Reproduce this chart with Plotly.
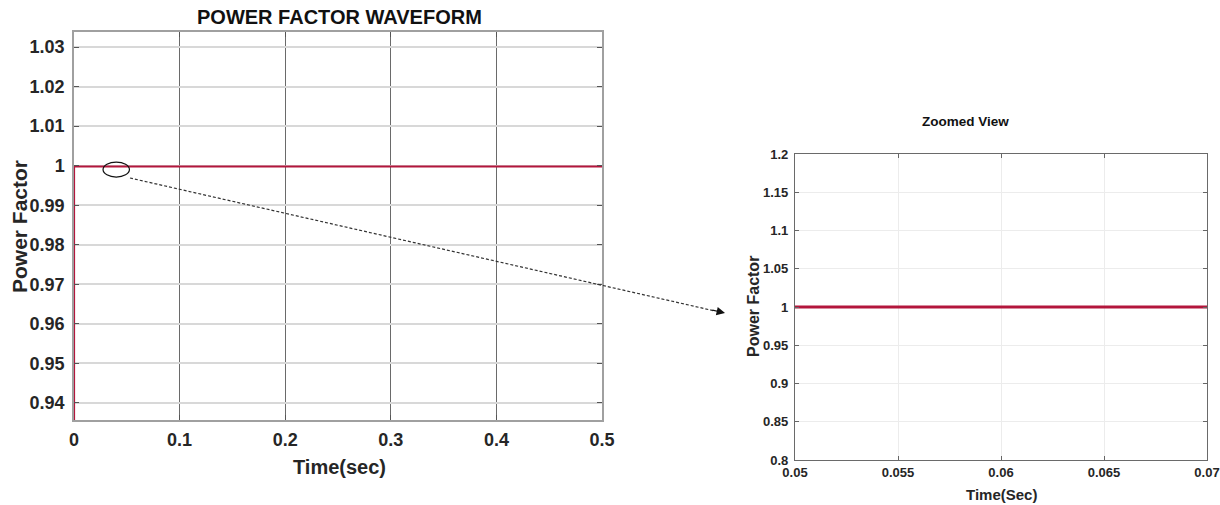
import plotly.graph_objects as go

# ---- data ----
time_main = [0.0, 0.0, 0.0005, 0.5]
pf_main = [0.90, 0.9998, 0.9998, 0.9998]

time_zoom = [0.05, 0.055, 0.06, 0.065, 0.07]
pf_zoom = [1.0, 1.0, 1.0, 1.0, 1.0]

main_xticks = [0, 0.1, 0.2, 0.3, 0.4, 0.5]
main_xlabels = ["0", "0.1", "0.2", "0.3", "0.4", "0.5"]
main_yticks = [0.94, 0.95, 0.96, 0.97, 0.98, 0.99, 1.00, 1.01, 1.02, 1.03]
main_ylabels = ["0.94", "0.95", "0.96", "0.97", "0.98", "0.99", "1", "1.01", "1.02", "1.03"]

zoom_xticks = [0.05, 0.055, 0.06, 0.065, 0.07]
zoom_xlabels = ["0.05", "0.055", "0.06", "0.065", "0.07"]
zoom_yticks = [0.8, 0.85, 0.9, 0.95, 1.0, 1.05, 1.1, 1.15, 1.2]
zoom_ylabels = ["0.8", "0.85", "0.9", "0.95", "1", "1.05", "1.1", "1.15", "1.2"]

W, H = 1220, 505
def px(x):
    return x / W
def py(y):
    return 1 - y / H

RED = "#b3163c"
SANS = "Liberation Sans, Arial, sans-serif"

fig = go.Figure()
fig.add_trace(go.Scatter(x=time_main, y=pf_main, mode="lines",
                         line=dict(color=RED, width=2.2), xaxis="x", yaxis="y",
                         showlegend=False, hoverinfo="skip"))
fig.add_trace(go.Scatter(x=time_zoom, y=pf_zoom, mode="lines",
                         line=dict(color=RED, width=3), xaxis="x2", yaxis="y2",
                         showlegend=False, hoverinfo="skip"))

fig.update_layout(
    template="none",
    width=W, height=H,
    margin=dict(l=0, r=0, t=0, b=0),
    paper_bgcolor="white", plot_bgcolor="white",
    xaxis=dict(domain=[px(74), px(602)], range=[0, 0.5], automargin=False,
               tickvals=main_xticks, ticktext=main_xlabels,
               showgrid=True, gridcolor="#6a6a6a", gridwidth=1,
               showline=True, linecolor="#a0a0a0", linewidth=1.5, mirror="allticks",
               ticks="inside", ticklen=5, tickcolor="#555",
               tickfont=dict(family=SANS, size=18, color="#262626", weight="bold"),
               ticklabelstandoff=3, zeroline=False, anchor="y"),
    yaxis=dict(domain=[py(420), py(32)], range=[0.9357, 1.0338], automargin=False,
               tickvals=main_yticks, ticktext=main_ylabels,
               showgrid=True, gridcolor="#d8d8d8", gridwidth=1.5,
               showline=True, linecolor="#a0a0a0", linewidth=1.5, mirror="allticks",
               ticks="inside", ticklen=5, tickcolor="#555",
               tickfont=dict(family=SANS, size=18, color="#262626", weight="bold"),
               ticklabelstandoff=4, zeroline=False, anchor="x"),
    xaxis2=dict(domain=[px(795), px(1207)], range=[0.05, 0.07], automargin=False,
                tickvals=zoom_xticks, ticktext=zoom_xlabels,
                showgrid=True, gridcolor="#ececec", gridwidth=1,
                showline=True, linecolor="#6a6a6a", linewidth=1.2, mirror="allticks",
                ticks="inside", ticklen=4, tickcolor="#666",
                tickfont=dict(family=SANS, size=13, color="#262626", weight="bold"),
                ticklabelstandoff=0, zeroline=False, anchor="y2"),
    yaxis2=dict(domain=[py(460), py(154)], range=[0.8, 1.2], automargin=False,
                tickvals=zoom_yticks, ticktext=zoom_ylabels,
                showgrid=True, gridcolor="#ececec", gridwidth=1,
                showline=True, linecolor="#6a6a6a", linewidth=1.2, mirror="allticks",
                ticks="inside", ticklen=4, tickcolor="#666",
                tickfont=dict(family=SANS, size=13, color="#262626", weight="bold"),
                ticklabelstandoff=3, zeroline=False, anchor="x2"),
)

annotations = [
    dict(text="<b>POWER FACTOR WAVEFORM</b>", x=px(339), y=py(17), xref="paper", yref="paper",
         showarrow=False, font=dict(family=SANS, size=20, color="#111"), xanchor="center", yanchor="middle"),
    dict(text="<b>Power Factor</b>", x=px(20), y=py(227), xref="paper", yref="paper",
         showarrow=False, textangle=-90, font=dict(family=SANS, size=21, color="#262626"),
         xanchor="center", yanchor="middle"),
    dict(text="<b>Time(sec)</b>", x=px(339), y=py(467), xref="paper", yref="paper",
         showarrow=False, font=dict(family=SANS, size=20, color="#262626"),
         xanchor="center", yanchor="middle"),
    dict(text="<b>Zoomed View</b>", x=px(965), y=py(121), xref="paper", yref="paper",
         showarrow=False, font=dict(family=SANS, size=13.5, color="#111"),
         xanchor="center", yanchor="middle"),
    dict(text="<b>Power Factor</b>", x=px(753), y=py(307), xref="paper", yref="paper",
         showarrow=False, textangle=-90, font=dict(family=SANS, size=16, color="#262626"),
         xanchor="center", yanchor="middle"),
    dict(text="<b>Time(Sec)</b>", x=px(1001), y=py(494), xref="paper", yref="paper",
         showarrow=False, font=dict(family=SANS, size=15, color="#262626"),
         xanchor="center", yanchor="middle"),
    # arrow head
    dict(text="", x=px(725), y=py(313), xref="paper", yref="paper",
         showarrow=True, ax=-14, ay=-3.2, arrowhead=2, arrowsize=1.4, arrowwidth=1.2,
         arrowcolor="#111"),
]
fig.update_layout(annotations=annotations)

fig.add_shape(type="line", xref="paper", yref="paper",
              x0=px(130), y0=py(178), x1=px(715), y1=py(311),
              line=dict(color="#333", width=1.2, dash="3px,2px"))
fig.add_shape(type="circle", xref="x", yref="y",
              x0=0.0275, x1=0.0525, y0=0.99713, y1=1.00091,
              line=dict(color="#111", width=1.2))

fig.write_html("out.html")
